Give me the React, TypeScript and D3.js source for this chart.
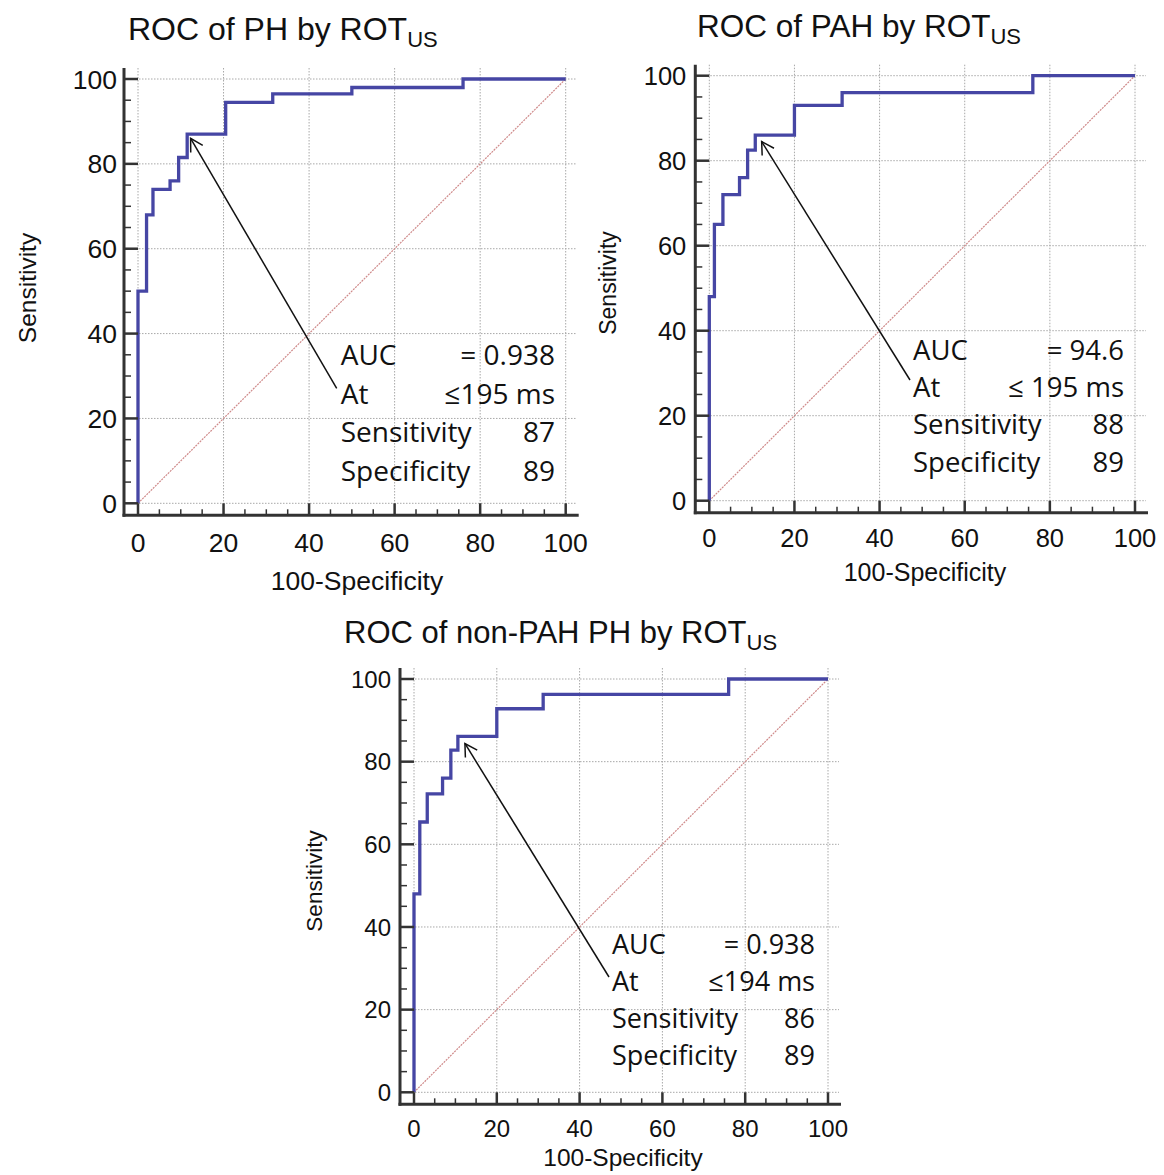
import React from "react";
import * as d3 from "d3";

// ROC points (100-Specificity, Sensitivity)
const phFpr = [0, 0, 2, 3.5, 7.5, 9.5, 11.5, 20.5, 31.5, 50, 76, 100];
const phTpr = [0, 50, 68, 74, 76, 81.5, 87, 94.5, 96.5, 98, 100, 100];

const pahFpr = [0, 0, 1.2, 3.2, 7.1, 9, 10.8, 20, 31.2, 76, 100];
const pahTpr = [0, 48, 65, 72, 76, 82.5, 86, 93, 96, 100, 100];

const nonFpr = [0, 0, 1.4, 3.2, 6.9, 8.9, 10.6, 20, 31.2, 76, 100];
const nonTpr = [0, 48, 65.4, 72.2, 76, 82.8, 86.1, 92.8, 96.3, 100, 100];

const statLabels = ["AUC", "At", "Sensitivity", "Specificity"];
const phStats = ["= 0.938", "≤195 ms", "87", "89"];
const pahStats = ["= 94.6", "≤ 195 ms", "88", "89"];
const nonStats = ["= 0.938", "≤194 ms", "86", "89"];

const titles = ["ROC of PH by ROT", "ROC of PAH by ROT", "ROC of non-PAH PH by ROT"];
const titleSub = "US";
const xTitle = "100-Specificity";
const yTitle = "Sensitivity";

// where each arrow points (in chart units)
const arrowTips = [
  [12.3, 86],
  [12.3, 84.5],
  [12.3, 84.4],
];

// layout of each panel on the page (pixels, fonts)
const layouts = [
  {
    xr: [138, 565.7], yr: [503.3, 79], tick: 26.5, lab: 26.5, ann: 28, titleSize: 32,
    title: [128, 40], yLab: [36, 288], xLab: [357, 590],
    ann0: [340.7, 365], annRight: 555, annStep: 38.5, tail: [336.7, 388.3],
    yLabGap: 7, xLabDy: 37,
  },
  {
    xr: [709.3, 1135], yr: [500.7, 75.7], tick: 25.5, lab: 25, ann: 27.5, titleSize: 31.5,
    title: [697, 37], yLab: [616, 283], xLab: [925, 581],
    ann0: [913, 360], annRight: 1124, annStep: 37.2, tail: [910, 380],
    yLabGap: 9, xLabDy: 34,
  },
  {
    xr: [414, 828], yr: [1092.3, 679], tick: 24, lab: 24.5, ann: 27, titleSize: 31,
    title: [344, 643], yLab: [322, 881], xLab: [623, 1166],
    ann0: [612, 954.3], annRight: 815, annStep: 37, tail: [609, 977],
    yLabGap: 9, xLabDy: 33,
  },
];

const curveColor = "#4646a4";
const diagColor = "#cf8a8a";
const gridColor = "#a8a8a8";
const axisColor = "#333";
const sansFont = "'Liberation Sans', Arial, sans-serif";
const annFont = "'Open Sans', 'Lato', sans-serif";

function RocPanel({ fpr, tpr, title, stats, tip, L }) {
  const x = d3.scaleLinear().domain([0, 100]).range(L.xr);
  const y = d3.scaleLinear().domain([0, 100]).range(L.yr);

  const axisX = x(0) - 14;
  const axisY = y(0) + 12;
  const gridRight = x(100) + 11;
  const gridTop = y(100) - 11;

  const major = x.ticks(5);
  const minor = d3.range(0, 101, 5).filter((v) => v % 20 !== 0);

  const roc = d3
    .line<number>()
    .x((d, i) => x(fpr[i]))
    .y((d) => y(d))
    .curve(d3.curveStepAfter);

  const tx = x(tip[0]);
  const ty = y(tip[1]);
  const ang = Math.atan2(L.tail[1] - ty, L.tail[0] - tx);
  const head = [ang - 0.52, ang + 0.52].map((a) => [tx + 14 * Math.cos(a), ty + 14 * Math.sin(a)]);

  return (
    <g>
      {/* grid */}
      <g stroke={gridColor} strokeWidth={1} strokeDasharray="1.5,1.5">
        {major.map((v) => (
          <line key={"gx" + v} x1={x(v)} x2={x(v)} y1={gridTop} y2={axisY} />
        ))}
        {major.map((v) => (
          <line key={"gy" + v} x1={axisX} x2={gridRight} y1={y(v)} y2={y(v)} />
        ))}
      </g>

      {/* reference diagonal */}
      <line
        x1={x(0)} y1={y(0)} x2={x(100)} y2={y(100)}
        stroke={diagColor} strokeWidth={1.2} strokeDasharray="2,1"
      />

      {/* ROC curve */}
      <path d={roc(tpr)} fill="none" stroke={curveColor} strokeWidth={3.3} />

      {/* axes */}
      <g stroke={axisColor}>
        <line x1={axisX} x2={axisX} y1={gridTop} y2={axisY + 1.5} strokeWidth={3} />
        <line x1={axisX - 1.5} x2={gridRight + 2} y1={axisY} y2={axisY} strokeWidth={3} />
        {major.map((v) => (
          <g key={"mt" + v} strokeWidth={2.5}>
            <line x1={axisX} x2={x(0)} y1={y(v)} y2={y(v)} />
            <line x1={x(v)} x2={x(v)} y1={axisY} y2={y(0)} />
          </g>
        ))}
        {minor.map((v) => (
          <g key={"nt" + v} strokeWidth={1.5}>
            <line x1={axisX} x2={axisX + 7} y1={y(v)} y2={y(v)} />
            <line x1={x(v)} x2={x(v)} y1={axisY} y2={axisY - 6} />
          </g>
        ))}
      </g>

      {/* tick labels */}
      <g fontFamily={sansFont} fontSize={L.tick} fill="#111">
        {major.map((v) => (
          <text key={"yl" + v} x={axisX - L.yLabGap} y={y(v)} dy="0.36em" textAnchor="end">
            {v}
          </text>
        ))}
        {major.map((v) => (
          <text key={"xl" + v} x={x(v)} y={axisY + L.xLabDy} textAnchor="middle">
            {v}
          </text>
        ))}
      </g>

      {/* axis titles */}
      <text
        x={L.xLab[0]} y={L.xLab[1]} textAnchor="middle"
        fontFamily={sansFont} fontSize={L.lab} fill="#111"
      >
        {xTitle}
      </text>
      <text
        transform={`translate(${L.yLab[0]},${L.yLab[1]}) rotate(-90)`}
        textAnchor="middle" fontFamily={sansFont} fontSize={L.lab - 2} fill="#111"
      >
        {yTitle}
      </text>

      {/* chart title */}
      <text x={L.title[0]} y={L.title[1]} fontFamily={sansFont} fontSize={L.titleSize} fill="#111">
        {title}
        <tspan dy={7} fontSize={22}>{titleSub}</tspan>
      </text>

      {/* arrow to cut-off */}
      <g stroke="#111" strokeWidth={1.5} fill="none">
        <line x1={L.tail[0]} y1={L.tail[1]} x2={tx} y2={ty} />
        <polyline points={`${head[0][0]},${head[0][1]} ${tx},${ty} ${head[1][0]},${head[1][1]}`} />
      </g>

      {/* statistics */}
      <g fontFamily={annFont} fontSize={L.ann} fill="#111">
        {statLabels.map((s, i) => (
          <text key={"sl" + i} x={L.ann0[0]} y={L.ann0[1] + i * L.annStep}>
            {s}
          </text>
        ))}
        {stats.map((s, i) => (
          <text key={"sv" + i} x={L.annRight} y={L.ann0[1] + i * L.annStep} textAnchor="end">
            {s}
          </text>
        ))}
      </g>
    </g>
  );
}

export default function App() {
  const series = [
    { fpr: phFpr, tpr: phTpr, stats: phStats },
    { fpr: pahFpr, tpr: pahTpr, stats: pahStats },
    { fpr: nonFpr, tpr: nonTpr, stats: nonStats },
  ];

  return (
    <svg
      width={1164}
      height={1175}
      style={{ position: "absolute", left: 0, top: 0, background: "#fff", display: "block" }}
    >
      <rect width={1164} height={1175} fill="#fff" />
      {series.map((s, i) => (
        <RocPanel
          key={i}
          fpr={s.fpr}
          tpr={s.tpr}
          stats={s.stats}
          title={titles[i]}
          tip={arrowTips[i]}
          L={layouts[i]}
        />
      ))}
    </svg>
  );
}
